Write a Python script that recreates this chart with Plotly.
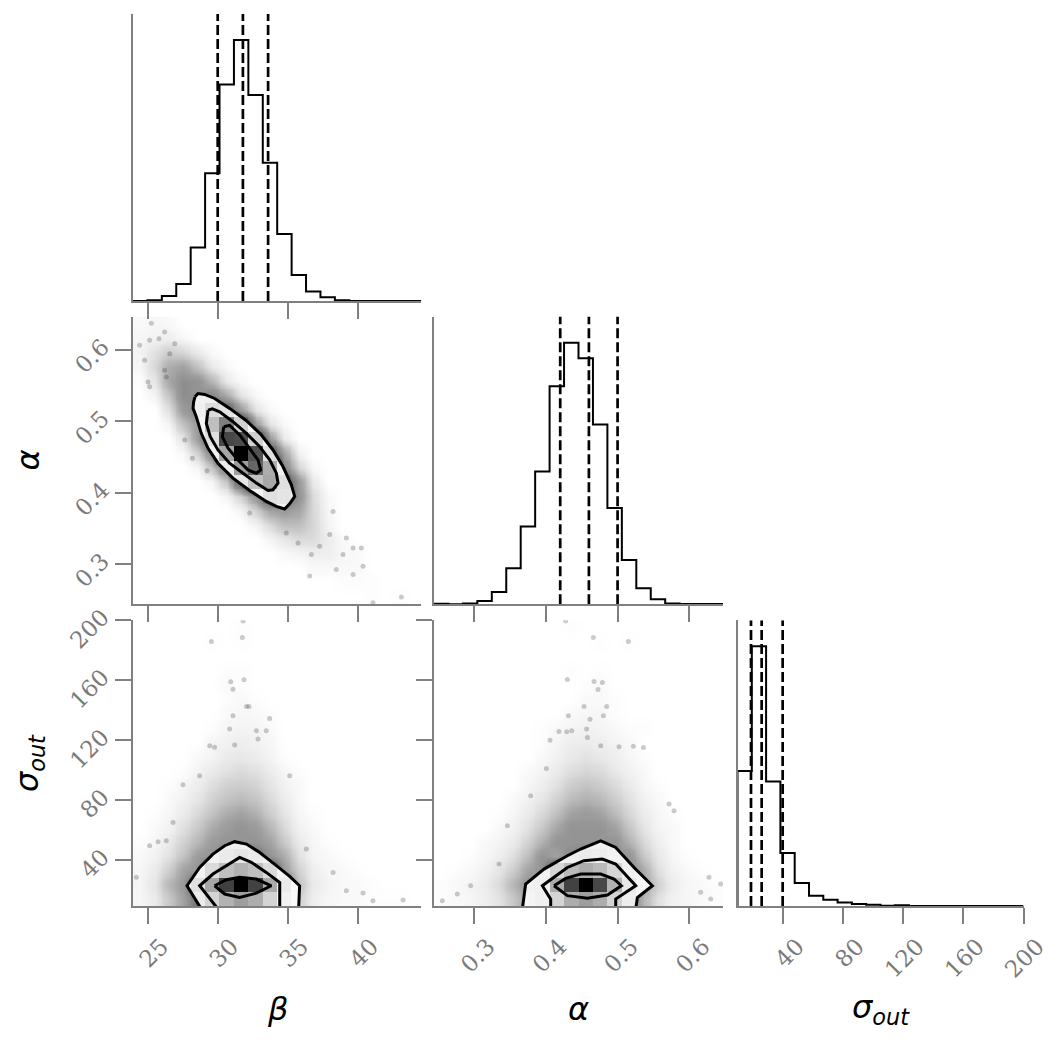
import numpy as np
import plotly.graph_objects as go

# ---------------- data ----------------
BETA_RANGE = [23.95, 44.55]
ALPHA_RANGE = [0.244, 0.647]
SIGMA_RANGE = [9.4, 200.0]
N_BINS = 20

beta_ticks = [25, 30, 35, 40]
alpha_ticks = [0.3, 0.4, 0.5, 0.6]
sigma_ticks = [40, 80, 120, 160, 200]

# 1D marginal histograms (relative bin heights, 20 bins across the axis range)
hist_beta = [0.0, 0.003, 0.019, 0.065, 0.205, 0.49, 0.83, 1.0, 0.79, 0.53,
             0.257, 0.10, 0.036, 0.014, 0.003, 0.0, 0.0, 0.0, 0.0, 0.0]
hist_alpha = [0.002, 0.0, 0.003, 0.013, 0.047, 0.138, 0.297, 0.508, 0.833, 1.0,
              0.94, 0.687, 0.368, 0.169, 0.061, 0.019, 0.003, 0.001, 0.001, 0.001]
hist_sigma = [0.52, 1.0, 0.479, 0.204, 0.089, 0.039, 0.024, 0.013, 0.008, 0.005,
              0.001, 0.003, 0.0, 0.0, 0.0, 0.0, 0.0, 0.0, 0.0, 0.0]

# 16/50/84 % quantiles
q_beta = [30.0, 31.8, 33.6]
q_alpha = [0.42, 0.46, 0.50]
q_sigma = [18.4, 25.5, 39.5]

# 2D relative densities: rows from top (highest y bin) to bottom, (first column, values)
dens_beta_alpha = [
    (0, [0.002, 0.003, 0.002]),
    (0, [0.003, 0.005, 0.006, 0.003]),
    (0, [0.004, 0.012, 0.02, 0.016, 0.008, 0.002]),
    (0, [0.003, 0.016, 0.035, 0.04, 0.024, 0.008, 0.002]),
    (0, [0.001, 0.01, 0.038, 0.055, 0.05, 0.03, 0.008, 0.002]),
    (1, [0.004, 0.024, 0.055, 0.05, 0.06, 0.035, 0.01, 0.002]),
    (2, [0.012, 0.045, 0.06, 0.14, 0.1, 0.045, 0.01, 0.002]),
    (2, [0.004, 0.025, 0.045, 0.25, 0.5, 0.18, 0.045, 0.01, 0.002]),
    (3, [0.01, 0.045, 0.12, 0.72, 0.7, 0.18, 0.045, 0.008]),
    (3, [0.002, 0.018, 0.06, 0.35, 1.0, 0.68, 0.12, 0.04, 0.005]),
    (4, [0.004, 0.024, 0.07, 0.38, 0.6, 0.32, 0.06, 0.016, 0.002]),
    (5, [0.004, 0.024, 0.1, 0.24, 0.34, 0.12, 0.045, 0.008]),
    (6, [0.004, 0.018, 0.05, 0.12, 0.1, 0.05, 0.014, 0.002]),
    (7, [0.004, 0.018, 0.04, 0.045, 0.038, 0.015, 0.003]),
    (8, [0.004, 0.014, 0.026, 0.026, 0.016, 0.004]),
    (9, [0.004, 0.009, 0.014, 0.014, 0.007, 0.002]),
    (10, [0.002, 0.004, 0.006, 0.006, 0.003, 0.002]),
    (12, [0.002, 0.002, 0.002, 0.002]),
    (14, [0.001, 0.001, 0.001]),
    (16, [0.001, 0.0, 0.001]),
]
dens_beta_sigma = [
    (7, [0.001]),
    (5, [0.001, 0.0, 0.001]),
    (0, []),
    (6, [0.001, 0.001]),
    (6, [0.002, 0.001]),
    (6, [0.001, 0.002, 0.001]),
    (6, [0.002, 0.003, 0.002, 0.001]),
    (5, [0.001, 0.003, 0.004, 0.004, 0.002]),
    (5, [0.004, 0.005, 0.006, 0.005, 0.003]),
    (4, [0.002, 0.004, 0.008, 0.009, 0.007, 0.004, 0.001]),
    (3, [0.001, 0.004, 0.008, 0.012, 0.014, 0.012, 0.007, 0.003, 0.001]),
    (2, [0.001, 0.003, 0.007, 0.013, 0.018, 0.02, 0.017, 0.01, 0.005, 0.002]),
    (2, [0.002, 0.005, 0.01, 0.018, 0.025, 0.028, 0.024, 0.015, 0.007, 0.002]),
    (1, [0.001, 0.003, 0.008, 0.015, 0.025, 0.035, 0.04, 0.033, 0.02, 0.01, 0.003, 0.001]),
    (1, [0.002, 0.005, 0.012, 0.022, 0.035, 0.045, 0.05, 0.045, 0.03, 0.015, 0.005, 0.002]),
    (0, [0.001, 0.003, 0.008, 0.018, 0.03, 0.045, 0.05, 0.05, 0.05, 0.04, 0.022, 0.008, 0.003, 0.001]),
    (0, [0.002, 0.005, 0.012, 0.025, 0.045, 0.05, 0.08, 0.1, 0.08, 0.05, 0.035, 0.012, 0.004, 0.002, 0.001]),
    (0, [0.003, 0.008, 0.02, 0.04, 0.05, 0.14, 0.25, 0.3, 0.25, 0.14, 0.045, 0.018, 0.006, 0.003, 0.002, 0.001]),
    (0, [0.004, 0.01, 0.03, 0.045, 0.12, 0.35, 0.75, 1.0, 0.74, 0.33, 0.08, 0.025, 0.008, 0.004, 0.002, 0.002, 0.001]),
    (0, [0.003, 0.008, 0.022, 0.04, 0.08, 0.17, 0.3, 0.38, 0.32, 0.17, 0.05, 0.018, 0.006, 0.003, 0.002, 0.002, 0.001, 0.001, 0.001]),
]
dens_alpha_sigma = [
    (9, [0.001]),
    (11, [0.001, 0.0, 0.001]),
    (0, []),
    (9, [0.001, 0.0, 0.001]),
    (10, [0.001, 0.002]),
    (10, [0.002, 0.002, 0.001]),
    (9, [0.002, 0.003, 0.003, 0.001]),
    (7, [0.001, 0.002, 0.004, 0.005, 0.004, 0.002, 0.001, 0.001]),
    (7, [0.001, 0.004, 0.006, 0.007, 0.006, 0.004, 0.002]),
    (7, [0.002, 0.005, 0.009, 0.011, 0.009, 0.006, 0.003, 0.001]),
    (6, [0.002, 0.004, 0.008, 0.013, 0.016, 0.014, 0.009, 0.005, 0.002]),
    (6, [0.003, 0.006, 0.012, 0.02, 0.024, 0.02, 0.014, 0.008, 0.003, 0.001]),
    (5, [0.002, 0.005, 0.01, 0.018, 0.028, 0.033, 0.029, 0.02, 0.012, 0.005, 0.002]),
    (4, [0.001, 0.003, 0.008, 0.015, 0.026, 0.04, 0.045, 0.04, 0.028, 0.016, 0.007, 0.003, 0.001]),
    (4, [0.002, 0.005, 0.012, 0.022, 0.038, 0.05, 0.05, 0.05, 0.04, 0.023, 0.01, 0.004, 0.002]),
    (3, [0.002, 0.004, 0.008, 0.018, 0.033, 0.05, 0.05, 0.05, 0.05, 0.05, 0.033, 0.015, 0.006, 0.002]),
    (2, [0.001, 0.003, 0.006, 0.013, 0.027, 0.05, 0.04, 0.06, 0.08, 0.07, 0.05, 0.05, 0.022, 0.009, 0.003, 0.001]),
    (1, [0.001, 0.002, 0.005, 0.01, 0.02, 0.04, 0.05, 0.16, 0.27, 0.32, 0.27, 0.16, 0.06, 0.035, 0.013, 0.005, 0.002, 0.001]),
    (0, [0.001, 0.002, 0.004, 0.007, 0.014, 0.03, 0.05, 0.06, 0.33, 0.74, 1.0, 0.72, 0.3, 0.09, 0.04, 0.018, 0.007, 0.003, 0.002, 0.001]),
    (0, [0.001, 0.002, 0.003, 0.006, 0.011, 0.022, 0.04, 0.06, 0.17, 0.32, 0.38, 0.32, 0.17, 0.07, 0.03, 0.012, 0.005, 0.003, 0.002, 0.001]),
]

# sparse outlying samples
out_ba_beta = [25.26, 26.21, 25.14, 25.81, 24.43, 26.93, 24.78, 25.14, 25.02, 28.19, 29.24, 32.28,
               36.57, 38.47, 39.67, 40.38, 40.26, 39.67, 38.95, 41.09, 43.12, 39.19, 38.0, 38.24,
               36.69, 37.28, 34.90, 35.74, 27.64, 26.33, 26.57, 26.21]
out_ba_alpha = [0.6377, 0.6252, 0.6136, 0.6159, 0.6066, 0.6089, 0.5857, 0.5485, 0.5554, 0.4485, 0.4309, 0.3718,
                0.2835, 0.2928, 0.2858, 0.2974, 0.3230, 0.3230, 0.3137, 0.2463, 0.2542, 0.3369, 0.3416, 0.3741,
                0.3137, 0.3253, 0.3439, 0.3300, 0.4741, 0.5624, 0.5950, 0.5717]
out_bs_beta = [31.81, 31.76, 29.55, 30.93, 31.88, 31.09, 32.05, 32.24, 31.09, 33.71, 30.85, 32.76, 33.47,
               29.43, 29.78, 31.21, 32.88, 27.52, 28.71, 35.14, 26.81, 25.14, 25.74, 26.33, 24.19, 36.33,
               38.24, 39.19, 40.38, 41.09, 43.24]
out_bs_sigma = [199.5, 188.5, 185.8, 158.9, 160.3, 154.0, 142.5, 142.5, 136.3, 134.5, 127.4, 126.3, 126.3,
                116.3, 115.2, 116.7, 120.7, 90.3, 96.3, 96.3, 65.1, 49.6, 52.3, 52.9, 28.5, 47.4,
                31.8, 19.6, 18.0, 12.9, 13.4]
out_as_alpha = [0.4276, 0.4662, 0.5150, 0.4300, 0.4672, 0.4788, 0.4727, 0.4532, 0.4848, 0.4314, 0.4802,
                0.4616, 0.4183, 0.4290, 0.4360, 0.4569, 0.4579, 0.4058, 0.4765, 0.5020, 0.5220, 0.5360,
                0.4007, 0.3788, 0.3463, 0.3347, 0.2951, 0.2556, 0.2765, 0.6275, 0.6438, 0.6159, 0.6299,
                0.5787, 0.5718]
out_as_sigma = [199.5, 188.5, 185.8, 160.5, 159.1, 158.5, 153.8, 142.5, 142.5, 136.3, 136.3,
                134.0, 125.8, 125.6, 126.3, 127.4, 121.8, 120.0, 116.3, 115.6, 116.0, 115.1,
                101.1, 82.9, 62.9, 37.4, 22.9, 12.9, 17.4, 28.5, 24.0, 18.5, 14.0,
                72.9, 77.4]

# contour lines (outer, middle, inner)
ba_outer_beta = [28.38, 28.59, 29.07, 29.78, 30.85, 32.05, 33.12, 33.95, 34.66, 35.26, 35.50, 35.14,
                 34.78, 34.19, 33.47, 32.28, 31.09, 30.02, 29.31, 28.83, 28.47, 28.24, 28.28]
ba_outer_alpha = [0.5345, 0.5392, 0.5378, 0.5322, 0.5183, 0.5011, 0.4811, 0.4601, 0.4369, 0.4113, 0.3951,
                  0.3848, 0.3774, 0.3811, 0.3881, 0.4034, 0.4206, 0.4416, 0.4625, 0.4834, 0.5066, 0.5183, 0.5276]
ba_mid_beta = [29.31, 29.62, 30.14, 31.09, 32.05, 33.0, 33.71, 34.19, 34.31, 33.95, 33.59, 32.76,
               31.81, 30.85, 30.02, 29.47, 29.19, 29.24]
ba_mid_alpha = [0.5159, 0.5178, 0.5136, 0.4997, 0.4834, 0.4648, 0.4462, 0.4276, 0.4137, 0.4044, 0.4034,
                0.4137, 0.4276, 0.4416, 0.4601, 0.4787, 0.4973, 0.5113]
ba_in_beta = [30.43, 30.85, 31.57, 32.28, 32.88, 33.07, 32.76, 32.16, 31.45, 30.74, 30.33]
ba_in_alpha = [0.4927, 0.4946, 0.4811, 0.4625, 0.4462, 0.4322, 0.4276, 0.4322, 0.4462, 0.4625, 0.4787]

bs_outer_beta = [28.83, 27.81, 28.71, 29.66, 30.50, 31.21, 32.05, 33.0, 34.19, 35.14, 35.85, 35.78]
bs_outer_sigma = [7.4, 22.9, 35.1, 44.0, 49.6, 52.3, 50.7, 45.1, 36.3, 29.1, 22.9, 7.4]
bs_mid_beta = [30.02, 28.71, 29.66, 30.62, 31.57, 32.40, 33.47, 34.43, 34.43]
bs_mid_sigma = [7.4, 22.9, 30.7, 36.3, 41.8, 38.5, 31.8, 25.1, 7.4]
bs_in_beta = [29.78, 30.62, 31.57, 32.76, 33.83, 32.76, 31.57, 30.50]
bs_in_sigma = [22.9, 26.9, 28.5, 27.4, 22.9, 18.0, 15.1, 17.4]

as_outer_alpha = [0.3672, 0.3718, 0.3974, 0.4300, 0.4486, 0.4765, 0.4974, 0.5229, 0.5485, 0.5276, 0.5253]
as_outer_sigma = [7.4, 24.0, 34.0, 42.9, 47.4, 52.9, 48.5, 35.1, 22.9, 15.1, 7.4]
as_mid_alpha = [0.4067, 0.4067, 0.3951, 0.4114, 0.4300, 0.4532, 0.4788, 0.4974, 0.5253, 0.4974, 0.4974]
as_mid_sigma = [7.4, 14.0, 22.9, 28.5, 35.1, 39.6, 40.7, 37.4, 22.9, 14.0, 7.4]
as_in_alpha = [0.4114, 0.4276, 0.4486, 0.4765, 0.4950, 0.5053, 0.4858, 0.4579, 0.4300]
as_in_sigma = [22.9, 27.8, 30.7, 30.7, 27.4, 22.9, 16.7, 14.5, 16.3]

# ---------------- helpers ----------------
W, H = 1062, 1045
OFF = 8  # page body margin in the browser
GRAY = "#808080"
TICKGRAY = "#7a7a7a"


def px_x(a, b):
    return [(a - OFF) / W, (b - OFF) / W]


def px_y(top, bottom):
    return [1 - (bottom - OFF) / H, 1 - (top - OFF) / H]


COL = [px_x(133, 421.4), px_x(434, 723), px_x(737.5, 1023.5)]
ROW = [px_y(14, 301), px_y(316.5, 604.3), px_y(620.2, 906)]


def edges(rng):
    return np.linspace(rng[0], rng[1], N_BINS + 1)


def centers(rng):
    e = edges(rng)
    return 0.5 * (e[:-1] + e[1:])


def expand(rows):
    g = np.zeros((N_BINS, N_BINS))
    for r, (c0, vals) in enumerate(rows):
        if vals:
            g[r, c0:c0 + len(vals)] = vals
    return g[::-1]


def closed(xs, ys):
    return list(xs) + [xs[0]], list(ys) + [ys[0]]


fig = go.Figure()

HAZE_SCALE = [[0.0, "rgba(0,0,0,0)"], [0.02, "rgba(0,0,0,0.02)"], [0.05, "rgba(0,0,0,0.05)"],
              [0.1, "rgba(0,0,0,0.09)"], [0.2, "rgba(0,0,0,0.18)"], [0.4, "rgba(0,0,0,0.34)"],
              [0.7, "rgba(0,0,0,0.48)"], [1.0, "rgba(0,0,0,0.58)"]]
CELL_SCALE = [[0.0, "rgba(0,0,0,0)"], [1.0, "rgba(0,0,0,1)"]]


def add_hist(vals, rng, quants, xa, ya):
    e = edges(rng)
    xs = [e[0]] + list(e)
    ys = [0] + list(vals) + [0]
    fig.add_trace(go.Scatter(x=xs, y=ys, mode="lines", line=dict(color="black", width=2, shape="hv"),
                             xaxis=xa, yaxis=ya, showlegend=False, hoverinfo="skip"))
    for q in quants:
        fig.add_trace(go.Scatter(x=[q, q], y=[0, 1.1], mode="lines",
                                 line=dict(color="black", width=2.7, dash="10px,4px"),
                                 xaxis=xa, yaxis=ya, showlegend=False, hoverinfo="skip"))


def add_2d(rows, xr, yr, ox, oy, contours, xa, ya, oxa, oya):
    z = expand(rows)
    xc, yc = centers(xr), centers(yr)
    fig.add_trace(go.Heatmap(x=xc, y=yc, z=z, zmin=0, zmax=0.1, colorscale=HAZE_SCALE,
                             zsmooth="best", showscale=False, xaxis=xa, yaxis=ya, hoverinfo="skip"))
    fig.add_trace(go.Scatter(x=ox, y=oy, mode="markers",
                             marker=dict(size=5, color="rgba(0,0,0,0.2)", line=dict(width=0)),
                             xaxis=xa, yaxis=ya, showlegend=False, hoverinfo="skip"))
    fx, fy = closed(*contours[0])
    fig.add_trace(go.Scatter(x=fx, y=fy, mode="lines", fill="toself", fillcolor="white",
                             line=dict(width=0, color="white"), xaxis=xa, yaxis=ya,
                             showlegend=False, hoverinfo="skip"))
    fig.add_trace(go.Heatmap(x=xc, y=yc, z=z, zmin=0, zmax=1, colorscale=CELL_SCALE,
                             showscale=False, xaxis=oxa, yaxis=oya, hoverinfo="skip"))
    for cx, cy in contours:
        lx, ly = closed(cx, cy)
        fig.add_trace(go.Scatter(x=lx, y=ly, mode="lines", line=dict(color="black", width=3),
                                 xaxis=oxa, yaxis=oya, showlegend=False, hoverinfo="skip"))


# diagonal histograms
add_hist(hist_beta, BETA_RANGE, q_beta, "x", "y")
add_hist(hist_alpha, ALPHA_RANGE, q_alpha, "x3", "y3")
add_hist(hist_sigma, SIGMA_RANGE, q_sigma, "x6", "y6")

# 2D panels
add_2d(dens_beta_alpha, BETA_RANGE, ALPHA_RANGE, out_ba_beta, out_ba_alpha,
       [(ba_outer_beta, ba_outer_alpha), (ba_mid_beta, ba_mid_alpha), (ba_in_beta, ba_in_alpha)],
       "x2", "y2", "x7", "y7")
add_2d(dens_beta_sigma, BETA_RANGE, SIGMA_RANGE, out_bs_beta, out_bs_sigma,
       [(bs_outer_beta, bs_outer_sigma), (bs_mid_beta, bs_mid_sigma), (bs_in_beta, bs_in_sigma)],
       "x4", "y4", "x8", "y8")
add_2d(dens_alpha_sigma, ALPHA_RANGE, SIGMA_RANGE, out_as_alpha, out_as_sigma,
       [(as_outer_alpha, as_outer_sigma), (as_mid_alpha, as_mid_sigma), (as_in_alpha, as_in_sigma)],
       "x5", "y5", "x9", "y9")

tickfont = dict(family="DejaVu Serif, serif", size=23, color=TICKGRAY)


def ax(domain, rng, anchor, tickvals=None, labels=False, shift=0, standoff=None):
    d = dict(domain=domain, range=rng, anchor=anchor, showgrid=False, zeroline=False,
             showline=True, linecolor=GRAY, linewidth=1.7, fixedrange=True)
    if tickvals is None:
        d.update(ticks="", showticklabels=False)
    else:
        d.update(ticks="outside", ticklen=16, tickwidth=1.7, tickcolor=GRAY,
                 tickvals=tickvals, ticktext=[str(t) for t in tickvals],
                 showticklabels=labels, tickangle=-45, tickfont=tickfont)
        if labels:
            d.update(ticklabelshift=shift)
            if standoff is not None:
                d.update(ticklabelstandoff=standoff)
    return d


def overlay(base, rng):
    return dict(overlaying=base, range=rng, visible=False, showgrid=False, zeroline=False, fixedrange=True)


XSHIFT = 14
YSHIFT = -6
YSTAND = 8
layout = dict(
    width=W, height=H, template="none", paper_bgcolor="white", plot_bgcolor="white",
    margin=dict(l=0, r=0, t=0, b=0), showlegend=False,
    xaxis=ax(COL[0], BETA_RANGE, "y", beta_ticks),
    yaxis=ax(ROW[0], [0, 1.1], "x"),
    xaxis2=ax(COL[0], BETA_RANGE, "y2", beta_ticks),
    yaxis2=ax(ROW[1], ALPHA_RANGE, "x2", alpha_ticks, True, YSHIFT, YSTAND),
    xaxis3=ax(COL[1], ALPHA_RANGE, "y3", alpha_ticks),
    yaxis3=ax(ROW[1], [0, 1.1], "x3"),
    xaxis4=ax(COL[0], BETA_RANGE, "y4", beta_ticks, True, XSHIFT),
    yaxis4=ax(ROW[2], SIGMA_RANGE, "x4", sigma_ticks, True, YSHIFT, YSTAND),
    xaxis5=ax(COL[1], ALPHA_RANGE, "y5", alpha_ticks, True, XSHIFT),
    yaxis5=ax(ROW[2], SIGMA_RANGE, "x5", sigma_ticks),
    xaxis6=ax(COL[2], SIGMA_RANGE, "y6", sigma_ticks, True, XSHIFT),
    yaxis6=ax(ROW[2], [0, 1.1], "x6"),
    xaxis7=overlay("x2", BETA_RANGE), yaxis7=overlay("y2", ALPHA_RANGE),
    xaxis8=overlay("x4", BETA_RANGE), yaxis8=overlay("y4", SIGMA_RANGE),
    xaxis9=overlay("x5", ALPHA_RANGE), yaxis9=overlay("y5", SIGMA_RANGE),
)
fig.update_layout(**layout)

title_font = dict(family="DejaVu Sans", size=32, color="black")
titles = [
    ("<i>β</i>", (133 + 421.4) / 2, 1009, 0),
    ("<i>α</i>", (434 + 723) / 2, 1009, 0),
    ("<i>σ</i><sub><i>out</i></sub>", (737.5 + 1023.5) / 2, 1009, 0),
    ("<i>α</i>", 28, (316.5 + 604.3) / 2, -90),
    ("<i>σ</i><sub><i>out</i></sub>", 29, (620.2 + 906) / 2, -90),
]
for txt, xp, yp, ang in titles:
    fig.add_annotation(text=txt, x=(xp - OFF) / W, y=1 - (yp - OFF) / H, xref="paper", yref="paper",
                       showarrow=False, xanchor="center", yanchor="middle", textangle=ang,
                       font=title_font)

fig.write_html("out.html")
